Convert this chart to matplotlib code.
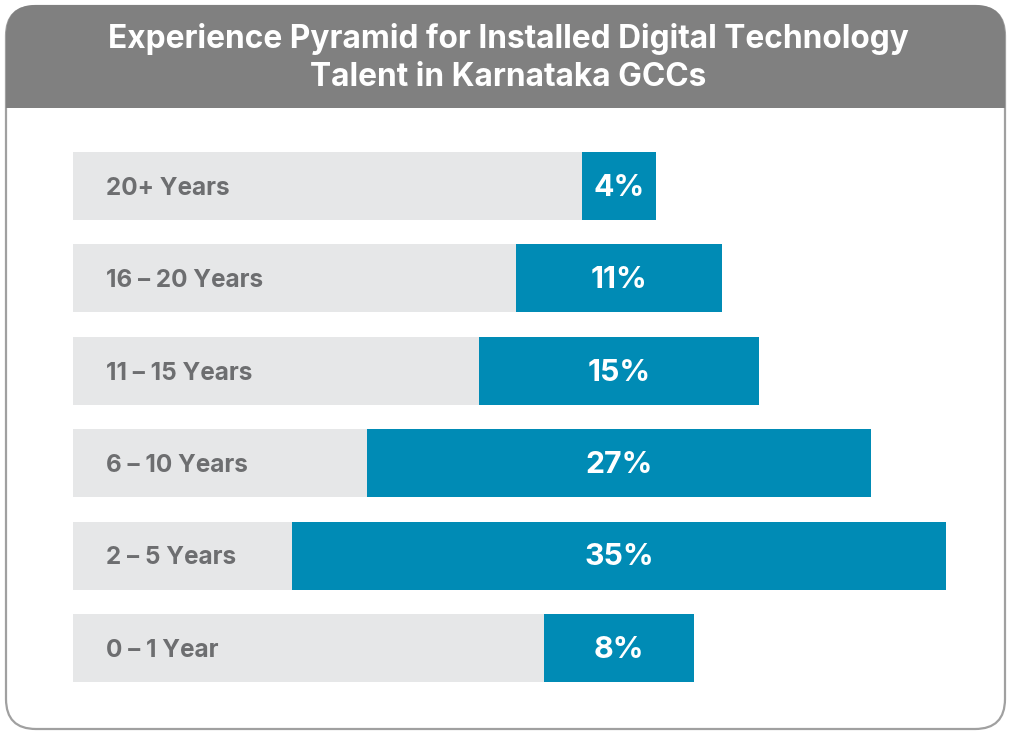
import matplotlib

matplotlib.use("Agg")
import matplotlib.pyplot as plt
from matplotlib.patches import FancyBboxPatch, Rectangle

plt.rcParams["font.family"] = ["Inter", "DejaVu Sans"]

# data, top to bottom
categories = ["20+ Years", "16 – 20 Years", "11 – 15 Years", "6 – 10 Years", "2 – 5 Years", "0 – 1 Year"]
shares = [4, 11, 15, 27, 35, 8]
title = "Experience Pyramid for Installed Digital Technology\nTalent in Karnataka GCCs"

BLUE = "#008BB5"
LIGHT = "#E6E7E8"
LABEL = "#6D6E70"
HEADER = "#808080"

W, H = 1011, 732
fig = plt.figure(figsize=(W / 100, H / 100), dpi=100)

# frame and header, drawn in pixel space
bg = fig.add_axes([0, 0, 1, 1])
bg.set_xlim(0, W)
bg.set_ylim(H, 0)
bg.axis("off")
bg.add_patch(FancyBboxPatch((6, 6), W - 12, H - 9, boxstyle="round,pad=0,rounding_size=30",
                            facecolor="white", edgecolor="#A0A0A0", linewidth=1.6))
bg.add_patch(FancyBboxPatch((6, 5), W - 12, 103, boxstyle="round,pad=0,rounding_size=30",
                            facecolor=HEADER, edgecolor="none"))
bg.add_patch(Rectangle((6, 60), W - 12, 48, facecolor=HEADER, edgecolor="none"))
bg.text(508, 58, title, ha="center", va="center", color="white", fontsize=22.8,
        fontweight="bold", linespacing=1.3)

# bars: blue centred on zero, grey backing from the left edge to zero
px_per_pct = 18.7
x0, x1, xc = 73, 966, 619
y0, y1 = 152, 682
ax = fig.add_axes([x0 / W, 1 - y1 / H, (x1 - x0) / W, (y1 - y0) / H])
left_lim = -(xc - x0) / px_per_pct
ax.set_xlim(left_lim, (x1 - xc) / px_per_pct)
n = len(categories)
bar_h = 68 / ((y1 - y0 - 68) / (n - 1))
ax.set_ylim(n - 1 + bar_h / 2, -bar_h / 2)
ax.axis("off")

pos = list(range(n))
ax.barh(pos, [-left_lim] * n, left=left_lim, height=bar_h, color=LIGHT, linewidth=0)
ax.barh(pos, shares, left=[-v / 2 for v in shares], height=bar_h, color=BLUE, linewidth=0)
for i, (cat, v) in enumerate(zip(categories, shares)):
    ax.text(left_lim + 33 / px_per_pct, i + 0.025, cat, ha="left", va="center", color=LABEL,
            fontsize=17.5, fontweight="bold")
    ax.text(0, i + 0.02, f"{v}%", ha="center", va="center", color="white",
            fontsize=21.8, fontweight="bold")

fig.savefig("out.png", dpi=100)
